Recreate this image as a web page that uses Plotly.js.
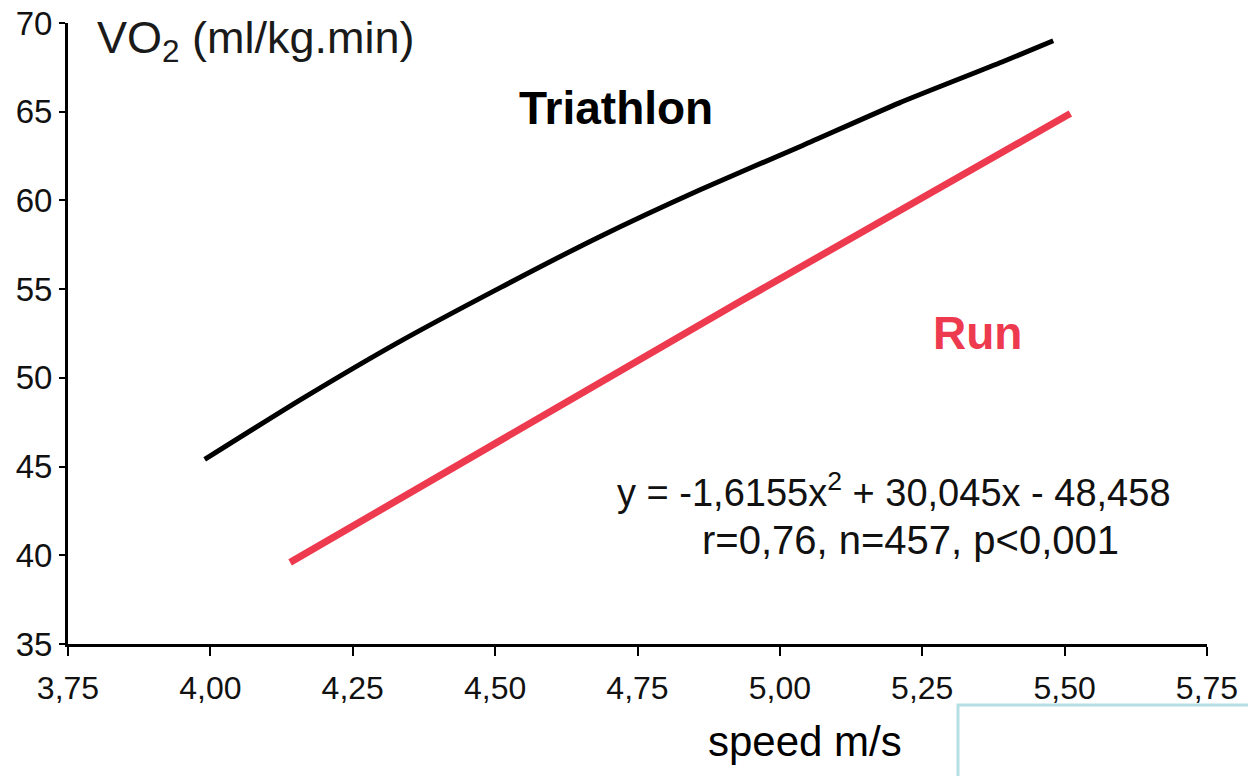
<!DOCTYPE html>
<html>
<head>
<meta charset="utf-8">
<script src="https://cdn.plot.ly/plotly-3.0.1.min.js"></script>
<style>
  html, body { margin: 0; padding: 0; background: #ffffff; }
  #chart { width: 1248px; height: 776px; }
</style>
</head>
<body>
<div id="chart"></div>
<script>
// Triathlon curve (black)
const triSpeed = [3.99, 4.16, 4.33, 4.51, 4.68, 4.86, 5.04, 5.21, 5.39, 5.48];
const triVO2   = [45.4, 48.8, 52.0, 55.1, 57.9, 60.6, 63.1, 65.5, 67.8, 69.0];

// Run line (red)
const runSpeed = [4.14, 4.93, 5.51];
const runVO2   = [39.6, 54.3, 64.9];

// Tick labels
const xTickVals = [3.75, 4.00, 4.25, 4.50, 4.75, 5.00, 5.25, 5.50, 5.75];
const xTickText = ['3,75', '4,00', '4,25', '4,50', '4,75', '5,00', '5,25', '5,50', '5,75'];
const yTickVals = [35, 40, 45, 50, 55, 60, 65, 70];
const yTickText = ['35', '40', '45', '50', '55', '60', '65', '70'];

const FONT = 'Arial, "Liberation Sans", Helvetica, sans-serif';
const RED = '#ee3a4f';

const traces = [
  {
    x: triSpeed, y: triVO2, type: 'scatter', mode: 'lines',
    line: { color: '#000000', width: 5, shape: 'spline', smoothing: 0.6 },
    hoverinfo: 'skip', showlegend: false
  },
  {
    x: runSpeed, y: runVO2, type: 'scatter', mode: 'lines',
    line: { color: RED, width: 7 },
    hoverinfo: 'skip', showlegend: false
  }
];

const layout = {
  width: 1248, height: 776,
  margin: { l: 68, r: 41, t: 23, b: 132, pad: 0 },
  paper_bgcolor: '#ffffff', plot_bgcolor: '#ffffff',
  font: { family: FONT, color: '#111111' },
  showlegend: false,
  xaxis: {
    range: [3.75, 5.75], fixedrange: true,
    tickmode: 'array', tickvals: xTickVals, ticktext: xTickText,
    showgrid: false, zeroline: false,
    showline: true, linecolor: '#000000', linewidth: 3,
    ticks: 'outside', ticklen: 9, tickwidth: 2, tickcolor: '#000000',
    ticklabelstandoff: 5,
    tickfont: { size: 32, family: FONT, color: '#111111' }
  },
  yaxis: {
    range: [35, 70], fixedrange: true,
    tickmode: 'array', tickvals: yTickVals, ticktext: yTickText,
    showgrid: false, zeroline: false,
    showline: true, linecolor: '#000000', linewidth: 3,
    ticks: 'outside', ticklen: 6, tickwidth: 2, tickcolor: '#000000',
    tickfont: { size: 33, family: FONT, color: '#111111' }
  },
  shapes: [
    {
      type: 'rect', xref: 'paper', yref: 'paper',
      x0: 0.7814, x1: 1.04, y0: -0.0982, y1: -0.23,
      line: { color: '#b6dfe3', width: 3 },
      fillcolor: 'rgba(0,0,0,0)'
    }
  ],
  annotations: [
    {
      xref: 'paper', yref: 'paper', x: 0.0237, y: 0.9726,
      xanchor: 'left', yanchor: 'middle', showarrow: false,
      text: 'VO<sub>2</sub> (ml/kg.min)',
      font: { size: 45, family: FONT, color: '#1a1a1a' }
    },
    {
      xref: 'paper', yref: 'paper', x: 0.4811, y: 0.8631,
      xanchor: 'center', yanchor: 'middle', showarrow: false,
      text: '<b>Triathlon</b>',
      font: { size: 46, family: FONT, color: '#000000' }
    },
    {
      xref: 'paper', yref: 'paper', x: 0.7981, y: 0.5008,
      xanchor: 'center', yanchor: 'middle', showarrow: false,
      text: '<b>Run</b>',
      font: { size: 46, family: FONT, color: RED }
    },
    {
      xref: 'paper', yref: 'paper', x: 0.7252, y: 0.2480,
      xanchor: 'center', yanchor: 'middle', showarrow: false,
      text: 'y = -1,6155x<sup>2</sup> + 30,045x - 48,458',
      font: { size: 38, family: FONT, color: '#111111' }
    },
    {
      xref: 'paper', yref: 'paper', x: 0.7401, y: 0.1675,
      xanchor: 'center', yanchor: 'middle', showarrow: false,
      text: 'r=0,76, n=457, p<0,001',
      font: { size: 40, family: FONT, color: '#111111' }
    },
    {
      xref: 'paper', yref: 'paper', x: 0.6471, y: -0.1578,
      xanchor: 'center', yanchor: 'middle', showarrow: false,
      text: 'speed m/s',
      font: { size: 42, family: FONT, color: '#000000' }
    }
  ]
};

Plotly.newPlot('chart', traces, layout, { displayModeBar: false, staticPlot: true });
</script>
</body>
</html>
